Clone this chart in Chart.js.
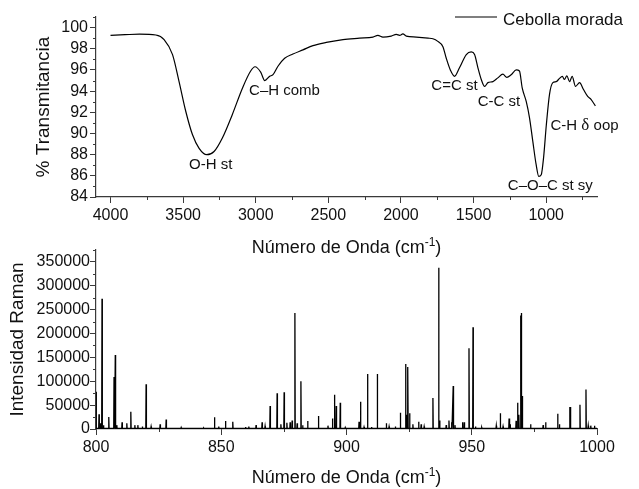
<!DOCTYPE html>
<html>
<head>
<meta charset="utf-8">
<script src="https://cdn.jsdelivr.net/npm/chart.js@4.4.1/dist/chart.umd.min.js"></script>
<style>
  html, body { margin: 0; padding: 0; background: #fff; }
  #wrap { position: relative; width: 639px; height: 489px; overflow: hidden; }
  canvas { position: absolute; left: 0; }
  #c_ir { top: 0; }
  #c_raman { top: 240px; }
</style>
</head>
<body>
<div id="wrap">
  <canvas id="c_ir" width="639" height="262"></canvas>
  <canvas id="c_raman" width="639" height="249"></canvas>
</div>
<script>
// --- IR spectrum ---
var irX = [4000, 3900, 3800, 3688, 3631, 3573, 3528, 3482, 3436, 3390, 3337, 3287, 3229, 3161, 3091,
  3035, 3005, 2966, 2938, 2904, 2881, 2847, 2801, 2744, 2675, 2606, 2514, 2399, 2285, 2193, 2159,
  2124, 2067, 2032, 2009, 1987, 1963, 1894, 1814, 1780, 1746, 1711, 1688, 1660, 1631, 1597, 1550,
  1516, 1493, 1470, 1447, 1424, 1401, 1367, 1333, 1298, 1271, 1241, 1206, 1184, 1165, 1137, 1115,
  1092, 1069, 1051, 1034, 1018, 999, 977, 954, 931, 908, 889, 874, 858, 839, 821, 798, 770, 743,
  714, 690, 661];
var irY = [99.27, 99.33, 99.38, 99.3, 98.87, 97.45, 94.9, 92.1, 89.9, 88.6, 88.0, 88.3, 89.6, 91.8, 94.3,
  95.9, 96.3, 95.8, 95.0, 95.4, 95.55, 96.35, 97.1, 97.5, 97.9, 98.3, 98.6, 98.87, 99.0, 99.1, 99.27,
  99.1, 99.2, 99.35, 99.27, 99.4, 99.2, 99.1, 99.0, 98.95, 98.7, 98.2, 97.1, 96.0, 95.4, 96.2, 97.45,
  97.7, 97.45, 96.2, 95.1, 94.45, 94.8, 94.9, 95.25, 95.6, 95.3, 95.55, 96.0, 95.9, 94.3, 93.0, 91.5,
  89.25, 87.05, 85.95, 86.1, 87.7, 90.8, 93.7, 94.8, 94.9, 95.2, 95.4, 95.1, 95.45, 94.9, 95.4, 94.45,
  94.8, 94.15, 93.5, 93.2, 92.6];
var irXTicks = [4000, 3500, 3000, 2500, 2000, 1500, 1000];
var irXMinor = [3750, 3250, 2750, 2250, 1750, 1250, 750];
var irYTicks = [84, 86, 88, 90, 92, 94, 96, 98, 100];
var irYMinor = [85, 87, 89, 91, 93, 95, 97, 99, 101];

var bandLabels = ['O-H st', 'C–H comb', 'C=C st', 'C-C st', 'C-H δ oop', 'C–O–C st sy'];
var bandAtX = [3310, 3046, 1791, 1471, 970, 1264];
var bandAtY = [86.6, 93.67, 94.07, 92.63, 90.3, 84.62];
var bandAlign = ['center', 'left', 'left', 'left', 'left', 'left'];

var seriesName = 'Cebolla morada';

// --- Raman spectrum peaks (position, height) ---
var ramanPeakX = [800.0, 801.2, 801.8, 802.4, 803.0, 805.1, 807.2, 807.7, 808.3, 810.4, 812.3, 813.9,
  815.5, 816.7, 818.5, 820.0, 822.0, 825.6, 828.0, 834.0, 839.0, 843.0, 847.3, 849.0, 851.7, 854.6,
  859.7, 861.0, 863.9, 866.3, 867.5, 869.5, 872.3, 873.8, 875.1, 876.2, 877.5, 878.3, 879.4, 880.3,
  881.8, 882.5, 884.5, 888.8, 892.6, 894.4, 895.2, 895.9, 897.5, 899.5, 905.0, 905.6, 907.0, 908.4,
  910.0, 912.3, 915.9, 917.0, 919.5, 921.5, 923.6, 924.1, 924.5, 925.2, 926.5, 928.8, 929.8, 931.0,
  934.5, 936.8, 937.2, 939.8, 940.9, 942.0, 942.6, 943.3, 946.3, 947.0, 948.9, 950.5, 951.5, 954.0,
  959.8, 961.4, 962.5, 964.9, 965.3, 967.7, 968.3, 968.8, 969.5, 969.8, 970.2, 973.5, 978.5, 979.5,
  984.3, 985.0, 989.1, 989.4, 993.2, 995.6, 996.5, 997.5, 999.0];
var ramanPeakY = [78000, 31000, 12000, 273000, 8000, 25000, 109000, 155000, 8000, 14000, 12000, 36000,
  8000, 8000, 5000, 94000, 5000, 10000, 20000, 3000, 2000, 2000, 24500, 5000, 17000, 15000,
  4000, 5000, 8000, 14000, 6000, 48000, 75000, 10000, 77000, 13000, 14000, 18000, 243000, 12000,
  100000, 8000, 17000, 27000, 7000, 22000, 72000, 48000, 55000, 3000, 15000, 57000, 4000, 115000,
  4000, 115000, 12000, 5000, 5000, 34000, 136000, 30000, 130000, 33000, 10000, 15000, 10000, 5000,
  65000, 338000, 18000, 8000, 18000, 14000, 90000, 8000, 14000, 14000, 169000, 213000, 5000, 3000,
  7000, 33000, 5000, 22000, 10000, 17000, 55000, 30000, 238000, 243000, 69000, 10000, 8000, 14000,
  32000, 10000, 46000, 46000, 51000, 83000, 7000, 7000, 7000];
var ramanBase = 1200;
var ramanXTicks = [800, 850, 900, 950, 1000];
var ramanXMinor = [825, 875, 925, 975];
var ramanYTicks = [0, 50000, 100000, 150000, 200000, 250000, 300000, 350000];
var ramanYMinor = [25000, 75000, 125000, 175000, 225000, 275000, 325000, 375000];

var FONT = '"Liberation Sans", Arial, sans-serif';
var AXIS = '#3a3a3a';
var INK = '#111';

function irPoints() {
  var pts = [];
  for (var i = 0; i < irX.length; i++) pts.push({ x: irX[i], y: irY[i] });
  return pts;
}

function ramanPoints() {
  var pts = [{ x: 799, y: ramanBase }];
  for (var i = 0; i < ramanPeakX.length; i++) {
    pts.push({ x: ramanPeakX[i] - 0.12, y: ramanBase });
    pts.push({ x: ramanPeakX[i], y: ramanPeakY[i] });
    pts.push({ x: ramanPeakX[i] + 0.12, y: ramanBase });
  }
  pts.push({ x: 1001, y: ramanBase });
  pts.sort(function(a, b) { return a.x - b.x; });
  return pts;
}

function fixTicks(vals) {
  return function(scale) {
    scale.ticks = vals.map(function(v) { return { value: v }; });
  };
}

function plainLabel(v) { return String(v); }

// x title with superscript "-1"
function drawXTitle(ctx, cx, baseline) {
  var main = 'Número de Onda (cm', sup = '-1', close = ')';
  ctx.font = '18px ' + FONT;
  var w1 = ctx.measureText(main).width;
  var w3 = ctx.measureText(close).width;
  ctx.font = '12px ' + FONT;
  var w2 = ctx.measureText(sup).width;
  var x = cx - (w1 + w2 + w3) / 2;
  ctx.textAlign = 'left';
  ctx.textBaseline = 'alphabetic';
  ctx.font = '18px ' + FONT;
  ctx.fillText(main, x, baseline);
  ctx.font = '12px ' + FONT;
  ctx.fillText(sup, x + w1, baseline - 7);
  ctx.font = '18px ' + FONT;
  ctx.fillText(close, x + w1 + w2, baseline);
}

var decor = {
  id: 'decor',
  afterDraw: function(chart, args, opts) {
    var ctx = chart.ctx;
    var xs = chart.scales.x, ys = chart.scales.y;
    var area = chart.chartArea;
    ctx.save();
    // minor ticks
    ctx.strokeStyle = AXIS;
    ctx.lineWidth = 1;
    ctx.beginPath();
    opts.xMinor.forEach(function(v) {
      var px = Math.round(xs.getPixelForValue(v)) + 0.5;
      ctx.moveTo(px, area.bottom);
      ctx.lineTo(px, area.bottom + 3);
    });
    opts.yMinor.forEach(function(v) {
      var py = Math.round(ys.getPixelForValue(v)) + 0.5;
      ctx.moveTo(area.left, py);
      ctx.lineTo(area.left - 3, py);
    });
    ctx.stroke();

    ctx.fillStyle = INK;
    // x title
    drawXTitle(ctx, (area.left + area.right) / 2, area.bottom + opts.xTitleOffset);
    // y title
    ctx.save();
    ctx.translate(opts.yTitleX, (area.top + area.bottom) / 2);
    ctx.rotate(-Math.PI / 2);
    ctx.font = '19px ' + FONT;
    ctx.textAlign = 'center';
    ctx.textBaseline = 'middle';
    ctx.fillText(opts.yTitle, 0, 0);
    ctx.restore();

    // band labels
    if (opts.bands) {
      ctx.font = '15px ' + FONT;
      ctx.textBaseline = 'alphabetic';
      for (var i = 0; i < bandLabels.length; i++) {
        var bx = xs.getPixelForValue(bandAtX[i]);
        var by = ys.getPixelForValue(bandAtY[i]);
        var txt = bandLabels[i];
        var k = txt.indexOf('δ');
        if (k < 0) {
          ctx.textAlign = bandAlign[i];
          ctx.fillText(txt, bx, by);
        } else {
          ctx.textAlign = 'left';
          var a = txt.slice(0, k), d = 'δ', b = txt.slice(k + 1);
          ctx.font = '15px ' + FONT;
          ctx.fillText(a, bx, by);
          var wa = ctx.measureText(a).width;
          ctx.font = '17px "Liberation Serif", "DejaVu Serif", serif';
          ctx.fillText(d, bx + wa, by);
          var wd = ctx.measureText(d).width;
          ctx.font = '15px ' + FONT;
          ctx.fillText(b, bx + wa + wd, by);
        }
      }
    }

    // legend
    if (opts.legend) {
      ctx.strokeStyle = '#000';
      ctx.lineWidth = 1.2;
      ctx.beginPath();
      ctx.moveTo(455, 17);
      ctx.lineTo(497, 17);
      ctx.stroke();
      ctx.font = '17px ' + FONT;
      ctx.textAlign = 'left';
      ctx.textBaseline = 'alphabetic';
      ctx.fillText(seriesName, 503, 25);
    }
    ctx.restore();
  }
};

function axisX(min, max, reverse, ticks, h) {
  return {
    type: 'linear', min: min, max: max, reverse: reverse,
    afterBuildTicks: fixTicks(ticks),
    afterFit: function(s) { s.height = h; },
    border: { display: true, color: AXIS, width: 1.2 },
    grid: { display: true, drawOnChartArea: false, drawTicks: true, tickLength: 6, color: AXIS, lineWidth: 1 },
    ticks: { color: INK, font: { family: FONT, size: 16 }, padding: 3, maxRotation: 0, autoSkip: false,
      callback: plainLabel },
    title: { display: false }
  };
}

function axisY(min, max, ticks, pad) {
  return {
    type: 'linear', min: min, max: max,
    afterBuildTicks: fixTicks(ticks),
    afterFit: function(s) { s.width = 96; },
    border: { display: true, color: AXIS, width: 1.2 },
    grid: { display: true, drawOnChartArea: false, drawTicks: true, tickLength: 6, color: AXIS, lineWidth: 1 },
    ticks: { color: INK, font: { family: FONT, size: 16 }, padding: pad, autoSkip: false,
      callback: plainLabel },
    title: { display: false }
  };
}

var irChart = new Chart(document.getElementById('c_ir'), {
  type: 'line',
  data: {
    datasets: [{
      label: seriesName,
      data: irPoints(),
      borderColor: '#000',
      borderWidth: 1.2,
      pointRadius: 0,
      cubicInterpolationMode: 'monotone',
      fill: false
    }]
  },
  options: {
    responsive: false,
    animation: false,
    layout: { padding: { left: 0, right: 42, top: 17, bottom: 0 } },
    plugins: {
      legend: { display: false },
      tooltip: { enabled: false },
      decor: { xMinor: irXMinor, yMinor: irYMinor, xTitleOffset: 56, yTitleX: 44,
        yTitle: '% Transmitancia', bands: true, legend: true }
    },
    scales: {
      x: axisX(650, 4100, true, irXTicks, 65),
      y: axisY(84, 101, irYTicks, 2)
    }
  },
  plugins: [decor]
});

var ramanChart = new Chart(document.getElementById('c_raman'), {
  type: 'line',
  data: {
    datasets: [{
      label: 'Raman',
      data: ramanPoints(),
      borderColor: '#000',
      borderWidth: 1.3,
      pointRadius: 0,
      tension: 0,
      fill: false
    }]
  },
  options: {
    responsive: false,
    animation: false,
    layout: { padding: { left: 0, right: 42, top: 10, bottom: 0 } },
    plugins: {
      legend: { display: false },
      tooltip: { enabled: false },
      decor: { xMinor: ramanXMinor, yMinor: ramanYMinor, xTitleOffset: 54, yTitleX: 18,
        yTitle: 'Intensidad Raman', bands: false, legend: false }
    },
    scales: {
      x: axisX(800, 1000, false, ramanXTicks, 60),
      y: axisY(0, 375000, ramanYTicks, 0)
    }
  },
  plugins: [decor]
});
</script>
</body>
</html>
